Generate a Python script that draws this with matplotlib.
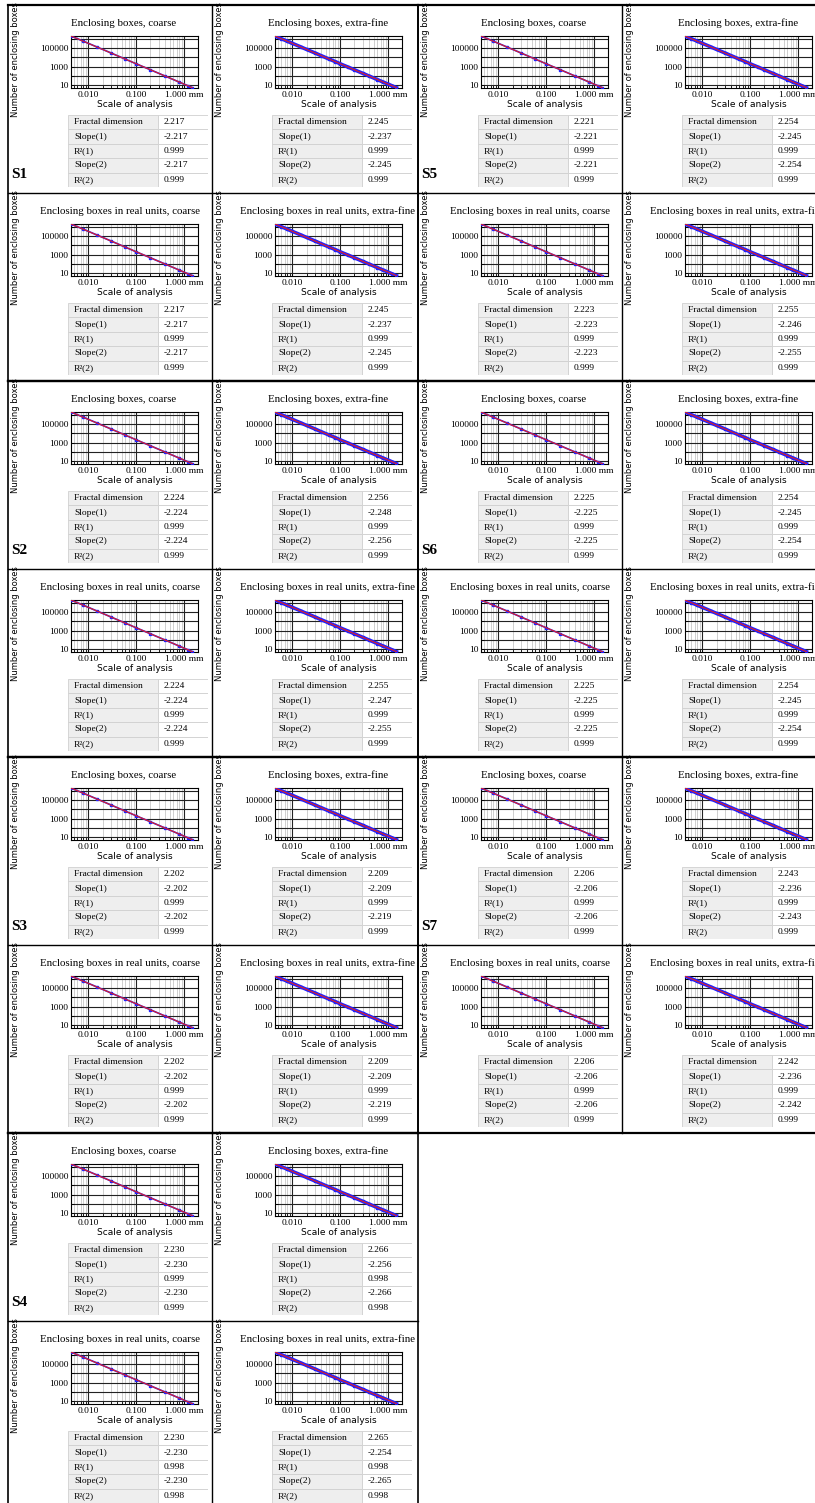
import matplotlib
matplotlib.use("Agg")
from matplotlib import pyplot as plt
from matplotlib.patches import Rectangle
from matplotlib.lines import Line2D
from matplotlib.ticker import LogLocator, NullFormatter, FixedLocator, FixedFormatter

W, H = 815, 1503

# data
scales = [0.0045, 0.006, 0.008, 0.01, 0.015, 0.02, 0.03, 0.04, 0.06, 0.08, 0.1,
          0.15, 0.2, 0.3, 0.4, 0.6, 0.8, 1.0, 1.2, 1.5]
counts = [2.0e6, 1.05e6, 5.6e5, 3.4e5, 1.4e5, 7.3e4, 3.0e4, 1.55e4, 6.3e3, 3.4e3, 2.0e3,
          830, 440, 178, 94, 38, 20, 12.3, 8.2, 5.0]
coarse_idx = [0, 2, 4, 6, 8, 10, 12, 14, 16, 18, 19]

row_labels = ["Fractal dimension", "Slope(1)", "R²(1)", "Slope(2)", "R²(2)"]
titles = ["Enclosing boxes, coarse", "Enclosing boxes, extra-fine",
          "Enclosing boxes in real units, coarse", "Enclosing boxes in real units, extra-fine"]

samples = ["S1", "S2", "S3", "S4", "S5", "S6", "S7"]
tables = {
    "S1": [[2.217, -2.217, 0.999, -2.217, 0.999], [2.245, -2.237, 0.999, -2.245, 0.999],
           [2.217, -2.217, 0.999, -2.217, 0.999], [2.245, -2.237, 0.999, -2.245, 0.999]],
    "S2": [[2.224, -2.224, 0.999, -2.224, 0.999], [2.256, -2.248, 0.999, -2.256, 0.999],
           [2.224, -2.224, 0.999, -2.224, 0.999], [2.255, -2.247, 0.999, -2.255, 0.999]],
    "S3": [[2.202, -2.202, 0.999, -2.202, 0.999], [2.209, -2.209, 0.999, -2.219, 0.999],
           [2.202, -2.202, 0.999, -2.202, 0.999], [2.209, -2.209, 0.999, -2.219, 0.999]],
    "S4": [[2.230, -2.230, 0.999, -2.230, 0.999], [2.266, -2.256, 0.998, -2.266, 0.998],
           [2.230, -2.230, 0.998, -2.230, 0.998], [2.265, -2.254, 0.998, -2.265, 0.998]],
    "S5": [[2.221, -2.221, 0.999, -2.221, 0.999], [2.254, -2.245, 0.999, -2.254, 0.999],
           [2.223, -2.223, 0.999, -2.223, 0.999], [2.255, -2.246, 0.999, -2.255, 0.999]],
    "S6": [[2.225, -2.225, 0.999, -2.225, 0.999], [2.254, -2.245, 0.999, -2.254, 0.999],
           [2.225, -2.225, 0.999, -2.225, 0.999], [2.254, -2.245, 0.999, -2.254, 0.999]],
    "S7": [[2.206, -2.206, 0.999, -2.206, 0.999], [2.243, -2.236, 0.999, -2.243, 0.999],
           [2.206, -2.206, 0.999, -2.206, 0.999], [2.242, -2.236, 0.999, -2.242, 0.999]],
}
# block origins (px) : (x, y)
origins = {"S1": (8, 5), "S2": (8, 381), "S3": (8, 757), "S4": (8, 1133),
           "S5": (418, 5), "S6": (418, 381), "S7": (418, 757)}
BLOCK_H = 376
ROW_H = 188

SERIF = "Liberation Serif"
SANS = "DejaVu Sans"

fig = plt.figure(figsize=(W / 100, H / 100), dpi=100)


def box(x, y, w, h):
    return [x / W, 1 - (y + h) / H, w / W, h / H]


def fmt(v):
    return "%.3f" % v


def panel(px, py, title, vals, fine, slabel=None):
    fig.text((px + 7) / W, 1 - (py + 55) / H, "Number of enclosing boxes", rotation=90,
             ha="center", va="center", fontsize=6, family=SANS)
    tx = px + 116 if "real" not in title else px + 112
    if title.endswith("extra-fine") and "real" in title:
        tx = px + 116
    fig.text(tx / W, 1 - (py + 18) / H, title, ha="center", va="center",
             fontsize=7.8, family=SERIF)
    ax = fig.add_axes(box(px + 63, py + 31, 127, 52))
    ax.set_xscale("log")
    ax.set_yscale("log")
    ax.set_xlim(0.0044, 1.96)
    ax.set_ylim(4.6, 2.1e6)
    ax.xaxis.set_major_locator(FixedLocator([0.01, 0.1, 1.0]))
    ax.xaxis.set_major_formatter(FixedFormatter(["0.010", "0.100", "1.000 mm"]))
    ax.xaxis.set_minor_locator(LogLocator(base=10, subs=range(2, 10)))
    ax.xaxis.set_minor_formatter(NullFormatter())
    ax.yaxis.set_major_locator(FixedLocator([10, 100, 1000, 1e4, 1e5, 1e6]))
    ax.yaxis.set_major_formatter(FixedFormatter(["10", "", "1000", "", "100000", ""]))
    ax.yaxis.set_minor_locator(FixedLocator([]))
    ax.grid(True, which="minor", axis="x", color="#c8c8c8", lw=0.6)
    ax.grid(True, which="major", color="#222222", lw=0.8)
    ax.tick_params(which="both", labelsize=6.8, length=2, width=0.6, pad=2, direction="in")
    for lab in ax.get_xticklabels() + ax.get_yticklabels():
        lab.set_family(SERIF)
    for s in ax.spines.values():
        s.set_linewidth(0.8)
    ax.set_xlabel("Scale of analysis", fontsize=6.5, family=SANS, labelpad=1)
    if fine:
        ax.plot(scales, counts, "-", color="#2020ff", lw=2.6, zorder=3)
        ax.plot(scales, counts, "s", color="#2020ff", ms=2, zorder=3)
    else:
        xs = [scales[i] for i in coarse_idx]
        ys = [counts[i] for i in coarse_idx]
        ax.plot(xs, ys, "-", color="#2020ff", lw=1.2, zorder=3)
        ax.plot(xs, ys, "s", color="#2020ff", ms=1.8, zorder=3)
    ax.plot([scales[0], scales[-1]], [counts[0], counts[-1]], "-", color="#e02020", lw=0.8, zorder=4)

    # table
    tab = fig.add_axes(box(px + 60, py + 110, 140, 72))
    tab.set_xlim(0, 140)
    tab.set_ylim(72, 0)
    tab.axis("off")
    for i, (lab, v) in enumerate(zip(row_labels, vals)):
        y0 = i * 14.4
        tab.add_patch(Rectangle((0, y0), 90, 14.4, fc="#eeeeee", ec="#d0d0d0", lw=0.6))
        tab.add_patch(Rectangle((90, y0), 50, 14.4, fc="white", ec="#d0d0d0", lw=0.6))
        tab.text(6, y0 + 7.2, lab, va="center", fontsize=6.8, family=SERIF)
        tab.text(96, y0 + 7.2, fmt(v), va="center", fontsize=6.8, family=SERIF)
    if slabel:
        fig.text((px + 3) / W, 1 - (py + 170) / H, slabel, ha="left", va="center",
                 fontsize=11, fontweight="bold", family=SERIF)


for s in samples:
    ox, oy = origins[s]
    vals = tables[s]
    panel(ox, oy, titles[0], vals[0], False, slabel=s)
    panel(ox + 204, oy, titles[1], vals[1], True)
    panel(ox, oy + ROW_H, titles[2], vals[2], False)
    panel(ox + 204, oy + ROW_H, titles[3], vals[3], True)
    # borders
    x0, x1 = ox / W, (ox + 410) / W
    y0, y1 = 1 - oy / H, 1 - (oy + BLOCK_H) / H
    for xs_, ys_, lw in [([x0, x1], [y0, y0], 1.6), ([x0, x1], [y1, y1], 1.6),
                         ([x0, x0], [y0, y1], 1.2), ([x1, x1], [y0, y1], 1.2),
                         ([(ox + 204) / W] * 2, [y0, y1], 1.0),
                         ([x0, x1], [1 - (oy + ROW_H) / H] * 2, 1.0)]:
        fig.add_artist(Line2D(xs_, ys_, color="black", lw=lw))

fig.savefig("out.png", dpi=100)
